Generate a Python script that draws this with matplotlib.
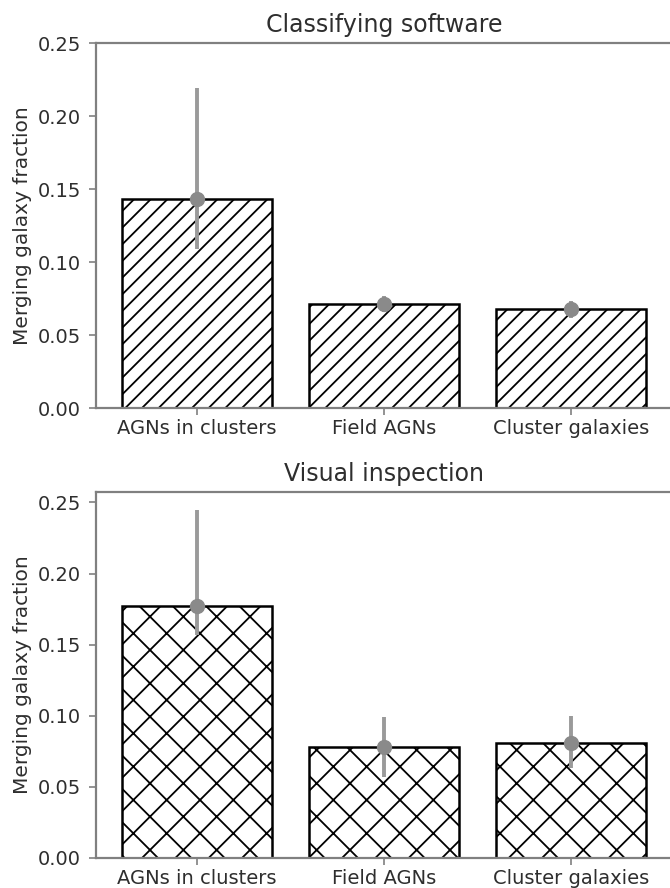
import matplotlib
matplotlib.use("Agg")
import matplotlib.pyplot as plt
import numpy as np

categories = ["AGNs in clusters", "Field AGNs", "Cluster galaxies"]

# Classifying software: merging fractions and confidence intervals
software_frac = [0.143, 0.071, 0.068]
software_lo = [0.109, 0.066, 0.062]
software_hi = [0.219, 0.077, 0.073]

# Visual inspection: merging fractions and confidence intervals
visual_frac = [0.177, 0.078, 0.081]
visual_lo = [0.157, 0.057, 0.063]
visual_hi = [0.245, 0.099, 0.100]

panels = [
    ("Classifying software", software_frac, software_lo, software_hi, "//"),
    ("Visual inspection", visual_frac, visual_lo, visual_hi, "x"),
]

plt.rcParams["hatch.linewidth"] = 1.3
fig = plt.figure(figsize=(6.7, 8.88), dpi=100)
axes = [
    fig.add_axes([0.1433, 0.5405, 0.8597, 0.411]),
    fig.add_axes([0.1433, 0.0338, 0.8597, 0.412]),
]

spine_gray = "#808080"
text_dark = "#2e2e2e"

for ax, (title, frac, lo, hi, hatch) in zip(axes, panels):
    x = np.arange(len(categories))
    ax.bar(x, frac, width=0.8, color="white", edgecolor="black",
           linewidth=1.8, hatch=hatch, zorder=2)
    frac_a = np.array(frac)
    yerr = np.vstack([frac_a - np.array(lo), np.array(hi) - frac_a])
    ax.errorbar(x, frac, yerr=yerr, fmt="o", color="#8a8a8a",
                ecolor="#9a9a9a", elinewidth=2.8, markersize=10,
                capsize=0, zorder=3)
    ax.set_xticks(x)
    ax.set_xticklabels(categories)
    ax.set_ylabel("Merging galaxy fraction", color=text_dark, fontsize=14.5,
                  labelpad=4)
    ax.set_title(title, fontsize=17, color=text_dark, pad=8)
    for s in ax.spines.values():
        s.set_color(spine_gray)
        s.set_linewidth(1.6)
    ax.tick_params(colors=spine_gray, labelcolor=text_dark, labelsize=14,
                   length=5, width=1.2)
    ax.tick_params(axis="x", pad=3)
    ax.tick_params(axis="y", pad=6)

axes[0].set_ylim(0, 0.25)
axes[0].set_yticks([0.0, 0.05, 0.10, 0.15, 0.20, 0.25])
axes[1].set_yticks([0.0, 0.05, 0.10, 0.15, 0.20, 0.25])

fig.savefig("out.png", dpi=100)
